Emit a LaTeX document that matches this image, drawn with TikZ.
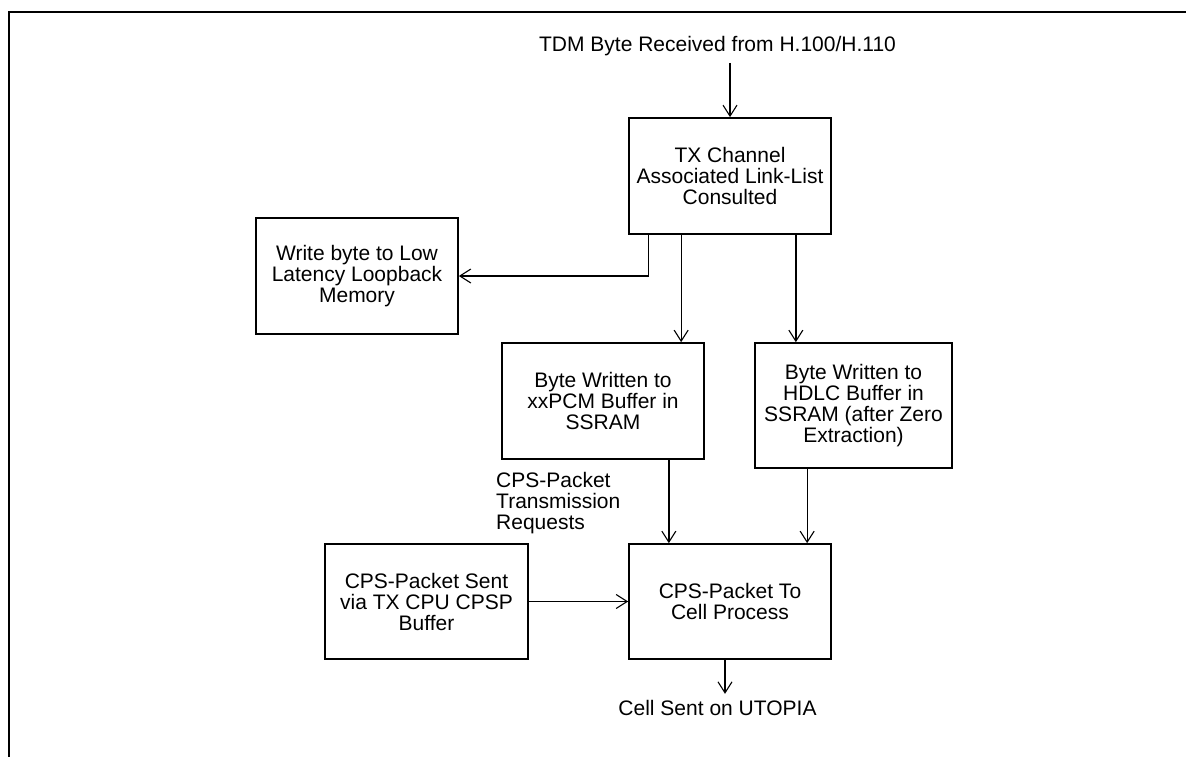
\documentclass[tikz,border=0pt]{standalone}
\usepackage{fontspec}
\setmainfont{Liberation Sans}
\usetikzlibrary{arrows.meta,calc}
\begin{document}
\begin{tikzpicture}[x=1pt,y=-1pt,
  every node/.style={font=\fontsize{21}{21}\selectfont},
  blk/.style={draw,line width=1.7pt,inner sep=0pt,align=center,minimum width=202pt,minimum height=116pt},
  lbl/.style={inner sep=0pt,align=left},
  arr/.style={line width=1.3pt,-{Straight Barb[length=11pt,width=14pt,line width=1.1pt]}},
  ln/.style={line width=1.3pt}]
\useasboundingbox (0,0) rectangle (1186,757);
% frame
\draw[line width=2pt] (9,757) -- (9,12) -- (1186,12);
% nodes
\node[lbl,anchor=base] (title) at (717.5,52) {TDM Byte Received from H.100/H.110};
\node[blk] (tx) at (730,176) {TX Channel\\Associated Link-List\\Consulted};
\node[blk] (write) at (357,276) {Write byte to Low\\Latency Loopback\\Memory};
\node[blk] (pcm) at (603,401) {Byte Written to\\xxPCM Buffer in\\SSRAM};
\node[blk,minimum width=197pt,minimum height=125pt] (hdlc) at (853.5,405.5) {Byte Written to\\HDLC Buffer in\\SSRAM (after Zero\\Extraction)};
\node[blk,minimum width=203pt,minimum height=115pt] (sent) at (426.5,601.5) {CPS-Packet Sent\\via TX CPU CPSP\\Buffer};
\node[blk,minimum height=115pt] (cps) at (730,601.5) {CPS-Packet To\\Cell Process};
\node[lbl,anchor=west] (req) at (496,503) {CPS-Packet\\Transmission\\Requests};
\node[lbl,anchor=base] (out) at (717.5,715) {Cell Sent on UTOPIA};
% connectors
\coordinate (tin) at (tx.north |- 0,63);
\draw[arr] (tin) -- (tx.north);
\coordinate (a1) at ([xshift=20pt]tx.south west);
\draw[arr] (a1) |- (write.east);
\coordinate (a2) at ([xshift=53pt]tx.south west);
\draw[arr] (a2) -- (a2 |- pcm.north);
\coordinate (a3) at ([xshift=-36pt]tx.south east);
\draw[arr] (a3) -- (a3 |- hdlc.north);
\coordinate (a4) at ([xshift=-36pt]pcm.south east);
\draw[arr] (a4) -- (a4 |- cps.north);
\coordinate (a5) at ([xshift=53pt]hdlc.south west);
\draw[arr] (a5) -- (a5 |- cps.north);
\draw[arr] (sent.east) -- (cps.west);
\coordinate (a6) at ([xshift=-5pt]cps.south);
\draw[arr] (a6) -- ++(0,34);
\end{tikzpicture}
\end{document}
